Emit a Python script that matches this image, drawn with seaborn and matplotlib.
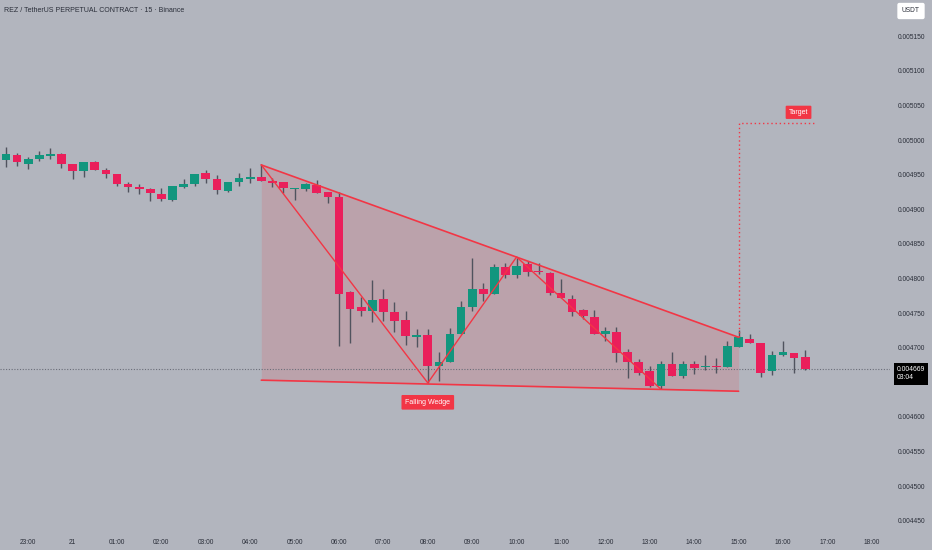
import matplotlib
matplotlib.use("Agg")
import matplotlib.pyplot as plt
import matplotlib.transforms as mtransforms
import seaborn as sns
import numpy as np
import pandas as pd

# ---------------- data ----------------
opens = [0.004971, 0.004978, 0.004966, 0.004972, 0.004977, 0.004980, 0.004966, 0.004955, 0.004968, 0.004956,
         0.004951, 0.004937, 0.004932, 0.004929, 0.004922, 0.004914, 0.004932, 0.004936, 0.004952, 0.004944,
         0.004927, 0.004939, 0.004944, 0.004946, 0.004941, 0.004939, 0.004929, 0.004929, 0.004935, 0.004925,
         0.004917, 0.004780, 0.004758, 0.004753, 0.004770, 0.004751, 0.004740, 0.004716, 0.004718, 0.004673,
         0.004679, 0.004720, 0.004759, 0.004784, 0.004778, 0.004817, 0.004805, 0.004821, 0.004811, 0.004808,
         0.004779, 0.004770, 0.004754, 0.004744, 0.004720, 0.004722, 0.004693, 0.004679, 0.004666, 0.004645,
         0.004676, 0.004659, 0.004676, 0.004672, 0.004674, 0.004672, 0.004701, 0.004713, 0.004706, 0.004666,
         0.004690, 0.004692, 0.004686]
highs = [0.004990, 0.004981, 0.004976, 0.004984, 0.004989, 0.004981, 0.004966, 0.004968, 0.004970, 0.004960,
         0.004951, 0.004940, 0.004936, 0.004931, 0.004930, 0.004933, 0.004944, 0.004951, 0.004957, 0.004949,
         0.004939, 0.004952, 0.004959, 0.004965, 0.004945, 0.004939, 0.004931, 0.004938, 0.004942, 0.004925,
         0.004925, 0.004782, 0.004773, 0.004797, 0.004784, 0.004766, 0.004753, 0.004727, 0.004727, 0.004694,
         0.004728, 0.004767, 0.004830, 0.004794, 0.004821, 0.004822, 0.004830, 0.004825, 0.004823, 0.004810,
         0.004799, 0.004776, 0.004756, 0.004754, 0.004730, 0.004730, 0.004698, 0.004683, 0.004673, 0.004681,
         0.004694, 0.004680, 0.004680, 0.004690, 0.004685, 0.004709, 0.004725, 0.004719, 0.004706, 0.004695,
         0.004709, 0.004692, 0.004696]
lows = [0.004961, 0.004962, 0.004958, 0.004969, 0.004973, 0.004959, 0.004943, 0.004946, 0.004956, 0.004945,
        0.004934, 0.004925, 0.004922, 0.004912, 0.004912, 0.004912, 0.004930, 0.004934, 0.004938, 0.004922,
        0.004925, 0.004934, 0.004938, 0.004941, 0.004932, 0.004923, 0.004913, 0.004927, 0.004924, 0.004909,
        0.004703, 0.004706, 0.004745, 0.004737, 0.004738, 0.004723, 0.004704, 0.004701, 0.004649, 0.004652,
        0.004679, 0.004720, 0.004753, 0.004767, 0.004778, 0.004801, 0.004801, 0.004803, 0.004806, 0.004776,
        0.004771, 0.004746, 0.004741, 0.004719, 0.004709, 0.004679, 0.004656, 0.004660, 0.004643, 0.004640,
        0.004659, 0.004656, 0.004662, 0.004668, 0.004663, 0.004672, 0.004701, 0.004706, 0.004658, 0.004660,
        0.004688, 0.004663, 0.004667]
closes = [0.004980, 0.004968, 0.004972, 0.004978, 0.004980, 0.004965, 0.004955, 0.004968, 0.004956, 0.004951,
          0.004936, 0.004932, 0.004929, 0.004923, 0.004915, 0.004933, 0.004936, 0.004951, 0.004943, 0.004928,
          0.004939, 0.004945, 0.004947, 0.004941, 0.004938, 0.004931, 0.004931, 0.004936, 0.004924, 0.004917,
          0.004777, 0.004756, 0.004753, 0.004769, 0.004751, 0.004739, 0.004717, 0.004718, 0.004674, 0.004679,
          0.004720, 0.004759, 0.004785, 0.004778, 0.004817, 0.004805, 0.004818, 0.004809, 0.004809, 0.004779,
          0.004771, 0.004752, 0.004745, 0.004719, 0.004724, 0.004692, 0.004679, 0.004664, 0.004644, 0.004676,
          0.004659, 0.004677, 0.004671, 0.004674, 0.004672, 0.004703, 0.004715, 0.004706, 0.004664, 0.004690,
          0.004693, 0.004685, 0.004669]

# time axis: first candle 22:30, 15-minute bars; hour labels
tick_index = [2, 6, 10, 14, 18, 22, 26, 30, 34, 38, 42, 46, 50, 54, 58, 62, 66, 70, 74, 78]
tick_labels = ["23:00", "21", "01:00", "02:00", "03:00", "04:00", "05:00", "06:00", "07:00", "08:00",
               "09:00", "10:00", "11:00", "12:00", "13:00", "14:00", "15:00", "16:00", "17:00", "18:00"]
price_ticks = [0.00445, 0.0045, 0.00455, 0.0046, 0.00465, 0.0047, 0.00475, 0.0048,
               0.00485, 0.0049, 0.00495, 0.005, 0.00505, 0.0051, 0.00515]

# pattern drawing (candle index, price)
wedge_upper_x = [23, 66]
wedge_upper_y = [0.004964, 0.004715]
wedge_lower_x = [23, 66]
wedge_lower_y = [0.004653, 0.004637]
zigzag_x = [23, 38, 46, 59]
zigzag_y = [0.004964, 0.004649, 0.004831, 0.004640]
target_x = [66, 66, 72.9]
target_y = [0.004715, 0.005025, 0.005025]
last_price = 0.004669
last_label = "0.004669\n03:04"

# ---------------- style ----------------
BG = "#b2b5be"
UP = "#12967e"
DOWN = "#ea1f5b"
WICK = "#50535e"
PAT = "#f23645"
TXT = "#2a2e39"

sns.set_theme(style="white", rc={"axes.facecolor": BG, "figure.facecolor": BG})
plt.rcParams["font.family"] = ["Liberation Sans", "DejaVu Sans"]

fig = plt.figure(figsize=(9.32, 5.5), dpi=100)
ax = fig.add_axes([0, 18 / 550, 890 / 932, 532 / 550])

df = pd.DataFrame({"open": opens, "high": highs, "low": lows, "close": closes})
df["idx"] = np.arange(len(df))
df["up"] = df["close"] >= df["open"]
df["color"] = np.where(df["up"], UP, DOWN)

# pattern fill
fx = np.array(wedge_upper_x, dtype=float)
ax.fill_between(fx, wedge_lower_y, wedge_upper_y, color=PAT, alpha=0.15, lw=0, zorder=1)

# wicks
ax.vlines(df["idx"], df["low"], df["high"], color=WICK, lw=1.0, zorder=2)
# bodies
body_bottom = np.minimum(df["open"], df["close"])
body_h = np.maximum(np.abs(df["close"] - df["open"]), 0.0000018)
ax.bar(df["idx"], body_h, bottom=body_bottom, width=0.78, color=df["color"], edgecolor="none", zorder=3)

# pattern lines via seaborn
line_df = pd.DataFrame({"x": wedge_upper_x, "y": wedge_upper_y})
sns.lineplot(data=line_df, x="x", y="y", ax=ax, color=PAT, lw=1.2, estimator=None, sort=False, zorder=4)
line_df = pd.DataFrame({"x": wedge_lower_x, "y": wedge_lower_y})
sns.lineplot(data=line_df, x="x", y="y", ax=ax, color=PAT, lw=1.2, estimator=None, sort=False, zorder=4)
line_df = pd.DataFrame({"x": zigzag_x, "y": zigzag_y})
sns.lineplot(data=line_df, x="x", y="y", ax=ax, color=PAT, lw=1.0, estimator=None, sort=False, zorder=4)
ax.plot(target_x, target_y, color=PAT, lw=1.0, ls=(0, (1, 2)), zorder=4)

# last price dotted line
ax.axhline(last_price, color="#6a6d78", lw=0.8, ls=(0, (1, 1.5)), zorder=1.5)

# labels
ax.text(71.4, 0.005040, "Target", color="white", fontsize=5, ha="center", va="center", zorder=6,
        bbox=dict(boxstyle="round,pad=0.45,rounding_size=0.15", fc=PAT, ec="none"))
ax.text(38, 0.004621, "Falling Wedge", color="white", fontsize=5, ha="center", va="center", zorder=6,
        bbox=dict(boxstyle="round,pad=0.55,rounding_size=0.15", fc=PAT, ec="none"))

# axes
ax.set_xlim(-0.54, 79.64)
ax.set_ylim(0.0044336, 0.0052023)
ax.set_xticks(tick_index)
ax.set_xticklabels(tick_labels)
ax.yaxis.tick_right()
ax.set_yticks(price_ticks)
ax.set_yticklabels([f"{p:.6f}" for p in price_ticks])
ax.tick_params(axis="both", length=0, labelsize=4.8, colors=TXT)
ax.tick_params(axis="y", pad=5.8)
ax.tick_params(axis="x", pad=5)
ax.set_xlabel("")
ax.set_ylabel("")
for s in ax.spines.values():
    s.set_visible(False)

# last price tag (drawn above the tick labels, shifted a little downward)
tag_trans = mtransforms.offset_copy(ax.get_yaxis_transform(), fig=fig, x=0, y=-4.5, units="dots")
ax.text(1.0075, last_price, last_label, transform=tag_trans, color="white", fontsize=4.9,
        ha="left", va="center", linespacing=1.35, zorder=10, clip_on=False,
        bbox=dict(boxstyle="square,pad=0.45", fc="black", ec="none"))

# title and currency box
fig.text(4 / 932, 1 - 10 / 550, "REZ / TetherUS PERPETUAL CONTRACT · 15 · Binance", fontsize=5,
         color=TXT, ha="left", va="center")
fig.text(911 / 932, 1 - 11 / 550, "USDT", fontsize=4.8, color=TXT, ha="center", va="center",
         bbox=dict(boxstyle="round,pad=0.7,rounding_size=0.3", fc="white", ec="none"))

fig.savefig("out.png", dpi=100, facecolor=BG)
